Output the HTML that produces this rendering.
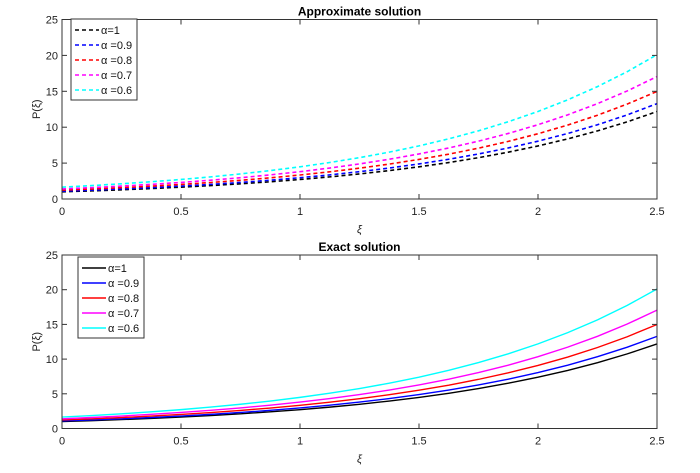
<!DOCTYPE html>
<html><head><meta charset="utf-8"><style>
body{margin:0;background:#fff;}
svg{font-family:"Liberation Sans",sans-serif;}
</style></head><body>
<svg id="c" width="700" height="468" xmlns="http://www.w3.org/2000/svg"></svg>
<script>
const xs=[0,0.125,0.25,0.375,0.5,0.625,0.75,0.875,1,1.125,1.25,1.375,1.5,1.625,1.75,1.875,2,2.125,2.25,2.375,2.5];
const s10=[1,1.133,1.284,1.455,1.649,1.868,2.117,2.399,2.718,3.080,3.490,3.955,4.482,5.078,5.755,6.521,7.389,8.373,9.488,10.751,12.182];
const s09=[1.09,1.235,1.400,1.586,1.797,2.036,2.308,2.615,2.963,3.357,3.804,4.311,4.885,5.535,6.273,7.108,8.054,9.127,10.342,11.719,13.278];
const s08=[1.23,1.394,1.579,1.790,2.028,2.298,2.604,2.951,3.343,3.788,4.293,4.865,5.513,6.246,7.079,8.021,9.088,10.299,11.670,13.224,14.984];
const s07=[1.4,1.586,1.798,2.037,2.309,2.615,2.964,3.359,3.805,4.312,4.886,5.537,6.275,7.109,8.057,9.129,10.345,11.722,13.283,15.051,17.055];
const s06=[1.65,1.869,2.119,2.401,2.721,3.082,3.493,3.958,4.485,5.082,5.759,6.526,7.395,8.379,9.496,10.760,12.192,13.815,15.655,17.739,20.100];
const labels=["α=1","α =0.9","α =0.8","α =0.7","α =0.6"];
const colors=["#000","#00f","#f00","#f0f","#0ff"];
const xticks=[0,0.5,1,1.5,2,2.5];
const yticks=[0,5,10,15,20,25];
const series=[s10,s09,s08,s07,s06];
const svg=document.getElementById('c');
const NS="http://www.w3.org/2000/svg";
function mk(t,a,p){const e=document.createElementNS(NS,t);for(const k in a)e.setAttribute(k,a[k]);(p||svg).appendChild(e);return e;}
function panel(top,bot,title,dashed,lx,ly,key){
  const L=62,R=657;
  const sx=v=>L+v/2.5*(R-L), sy=v=>bot-v/25*(bot-top);
  const g=mk('g',{});
  
  
  series.forEach((s,i)=>{
    const p=mk('polyline',{points:s.map((v,j)=>sx(xs[j])+','+sy(v)).join(' '),fill:'none',stroke:colors[i],'stroke-width':dashed?1.6:1.4,'stroke-dasharray':dashed?'4,3':'none'},g);
    
    
  });
  const ax=mk('rect',{x:L,y:top,width:R-L,height:bot-top,fill:'none',stroke:'#333','stroke-width':1},g);
  
  
  xticks.forEach(t=>{const x=sx(t);
    mk('line',{x1:x,x2:x,y1:bot,y2:bot-5,stroke:'#333'},g);mk('line',{x1:x,x2:x,y1:top,y2:top+5,stroke:'#333'},g);
    const tx=mk('text',{x:x,y:bot+16,'font-size':11,'text-anchor':'middle',fill:'#222'},g);tx.textContent=t;
    
    });
  yticks.forEach(t=>{const y=sy(t);
    mk('line',{x1:L,x2:L+5,y1:y,y2:y,stroke:'#333'},g);mk('line',{x1:R,x2:R-5,y1:y,y2:y,stroke:'#333'},g);
    const tx=mk('text',{x:L-4,y:y+4,'font-size':11,'text-anchor':'end',fill:'#222'},g);tx.textContent=t;
    
    });
  const ti=mk('text',{x:(L+R)/2,y:top-4,'font-size':12,'font-weight':'bold','text-anchor':'middle'},g);ti.textContent=title;
  
  
  const xl=mk('text',{x:(L+R)/2,y:bot+34,'font-size':11,'font-style':'italic','text-anchor':'middle',fill:'#222'},g);xl.textContent='ξ';
  
  
  const yl=mk('text',{x:0,y:0,'font-size':11,'text-anchor':'middle',fill:'#222',transform:`translate(40,${(top+bot)/2}) rotate(-90)`},g);yl.textContent='P(ξ)';
  
  
  const lg=mk('g',{},g);
  
  
  mk('rect',{x:lx,y:ly,width:66,height:81,fill:'#fff',stroke:'#333'},lg);
  labels.forEach((l,i)=>{const y=ly+11+i*15;
    mk('line',{x1:lx+4,x2:lx+28,y1:y,y2:y,stroke:colors[i],'stroke-width':1.6,'stroke-dasharray':dashed?'4,3':'none'},lg);
    const t=mk('text',{x:lx+30,y:y+4,'font-size':11,fill:'#111'},lg);t.textContent=l;
    
    });
}
panel(19.5,199,'Approximate solution',true,71,19,'top');
panel(255,428.5,'Exact solution',false,78,257,'bottom');
</script>
</body></html>
